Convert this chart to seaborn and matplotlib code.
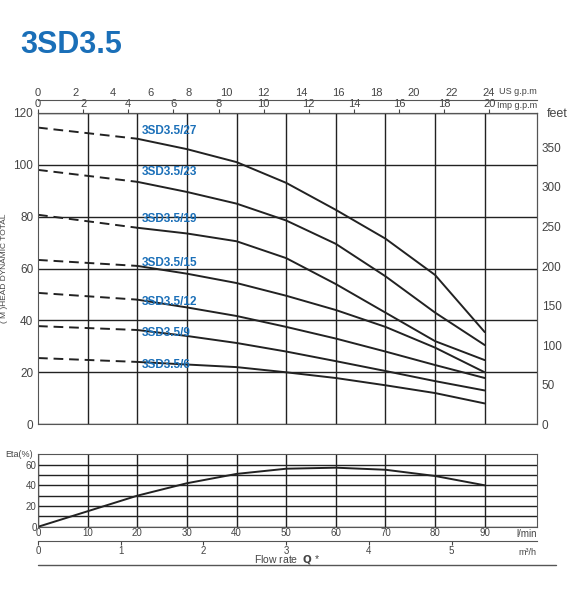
import matplotlib
matplotlib.use("Agg")
import matplotlib.pyplot as plt
import seaborn as sns
import numpy as np
import pandas as pd

sns.set_style("white")
plt.rcParams['font.family'] = ['Liberation Sans', 'DejaVu Sans']

flow = [0, 20, 30, 40, 50, 60, 70, 80, 90]
models = ["3SD3.5/27", "3SD3.5/23", "3SD3.5/19", "3SD3.5/15", "3SD3.5/12", "3SD3.5/9", "3SD3.5/6"]
heads = {
    "3SD3.5/27": [114.3, 110, 106, 101, 93, 82.6, 71.5, 57.5, 35.5],
    "3SD3.5/23": [98, 93.4, 89.5, 85, 78.5, 69.5, 57, 43, 30.5],
    "3SD3.5/19": [80.7, 75.7, 73.5, 70.5, 64, 54, 43, 32, 24.7],
    "3SD3.5/15": [63.3, 61, 58, 54.4, 49.5, 44, 37.5, 29.5, 20],
    "3SD3.5/12": [50.6, 48, 45, 41.7, 37.5, 33, 28, 22.8, 17.8],
    "3SD3.5/9": [37.8, 36.3, 34, 31.3, 28, 24.3, 20.5, 16.6, 13],
    "3SD3.5/6": [25.5, 24, 23, 22, 20, 17.8, 15, 12, 8],
}
label_y = [113, 97, 79, 62, 47, 35, 23]
eta_flow = [0, 10, 20, 30, 40, 50, 60, 70, 80, 90]
eta = [0, 15, 30, 42, 51, 56, 57, 55, 49, 40]

fig = plt.figure(figsize=(5.76, 6.0), dpi=100)
ax = fig.add_axes([0.066, 0.293, 0.866, 0.519])
blue = "#1a6fb8"
for m, ly in zip(models, label_y):
    df = pd.DataFrame({"q": flow, "h": heads[m]})
    sns.lineplot(data=df[df.q >= 20], x="q", y="h", ax=ax, color="#222", lw=1.4)
    sns.lineplot(data=df[df.q <= 20], x="q", y="h", ax=ax, color="#222", lw=1.4, linestyle=(0, (5, 3)))
    ax.text(21, ly, m, color=blue, fontsize=8.5, fontweight="bold", va="center")
ax.set_xlim(0, 100.5)
ax.set_ylim(0, 120)
ax.set_xticks(range(10, 100, 10))
ax.set_yticks(range(0, 121, 20))
ax.tick_params(axis="x", bottom=False, labelbottom=False)
ax.tick_params(axis="y", labelsize=8.5, colors="#444", length=0)
ax.grid(True, color="#222", lw=1.0)
for s in ax.spines.values():
    s.set_color("#555")
ax.set_xlabel("")
ax.set_ylabel("( M )HEAD DYNAMIC TOTAL", fontsize=6, color="#444")

imp = ax.secondary_xaxis("top", functions=(lambda x: x / 4.546, lambda x: x * 4.546))
imp.set_xticks(range(0, 21, 2))
imp.tick_params(labelsize=8, colors="#444", length=3, pad=0)
ax.text(1.0, 1.025, "Imp g.p.m", transform=ax.transAxes, fontsize=6.5, color="#444", ha="right", va="center")
us = ax.secondary_xaxis(1.04, functions=(lambda x: x / 3.785, lambda x: x * 3.785))
us.set_xticks(range(0, 25, 2))
us.tick_params(labelsize=8, colors="#444", length=0, pad=2)
us.spines["top"].set_color("#555")
ax.text(1.0, 1.07, "US g.p.m", transform=ax.transAxes, fontsize=6.5, color="#444", ha="right", va="center")

ft = ax.secondary_yaxis("right", functions=(lambda y: y * 3.281, lambda y: y / 3.281))
ft.set_yticks(range(0, 351, 50))
ft.tick_params(labelsize=8.5, colors="#444", length=0)
ax.text(1.02, 0.995, "feet", transform=ax.transAxes, fontsize=9, color="#444", va="center")

ax2 = fig.add_axes([0.066, 0.122, 0.866, 0.121])
sns.lineplot(x=eta_flow, y=eta, ax=ax2, color="#222", lw=1.4)
ax2.set_xlim(0, 100.5)
ax2.set_ylim(0, 70)
ax2.set_yticks(range(0, 61, 20))
ax2.set_yticks(range(10, 70, 20), minor=True)
ax2.grid(True, which="both", color="#222", lw=1.0)
ax2.tick_params(axis="y", labelsize=7, colors="#444", length=0, pad=1)
ax2.set_xticks(range(0, 100, 10))
ax2.tick_params(axis="x", labelsize=7, colors="#444", length=0, pad=1)
for s in ax2.spines.values():
    s.set_color("#555")
ax2.text(-0.01, 1.0, "Eta(%)", transform=ax2.transAxes, fontsize=6.5, color="#444", ha="right", va="center")
ax2.text(1.0, -0.1, "l/min", transform=ax2.transAxes, fontsize=7, color="#444", ha="right", va="center")
m3 = ax2.secondary_xaxis(-0.19, functions=(lambda x: x / 16.667, lambda x: x * 16.667))
m3.set_xticks(range(0, 6))
m3.tick_params(labelsize=7, colors="#444", length=3, pad=1)
m3.spines["bottom"].set_color("#555")
ax2.text(1.0, -0.36, "m³/h", transform=ax2.transAxes, fontsize=6.5, color="#444", ha="right", va="center")
ax2.text(0.5, -0.45, "Flow rate  $\\bf{Q}$ *", transform=ax2.transAxes, fontsize=7.5, color="#444", ha="center", va="center")

fig.add_artist(plt.Line2D([0.066, 0.965], [0.058, 0.058], color="#555", lw=1))
fig.text(0.035, 0.925, "3SD3.5", color=blue, fontsize=22, fontweight="bold", va="center")

fig.savefig("out.png", dpi=100)
